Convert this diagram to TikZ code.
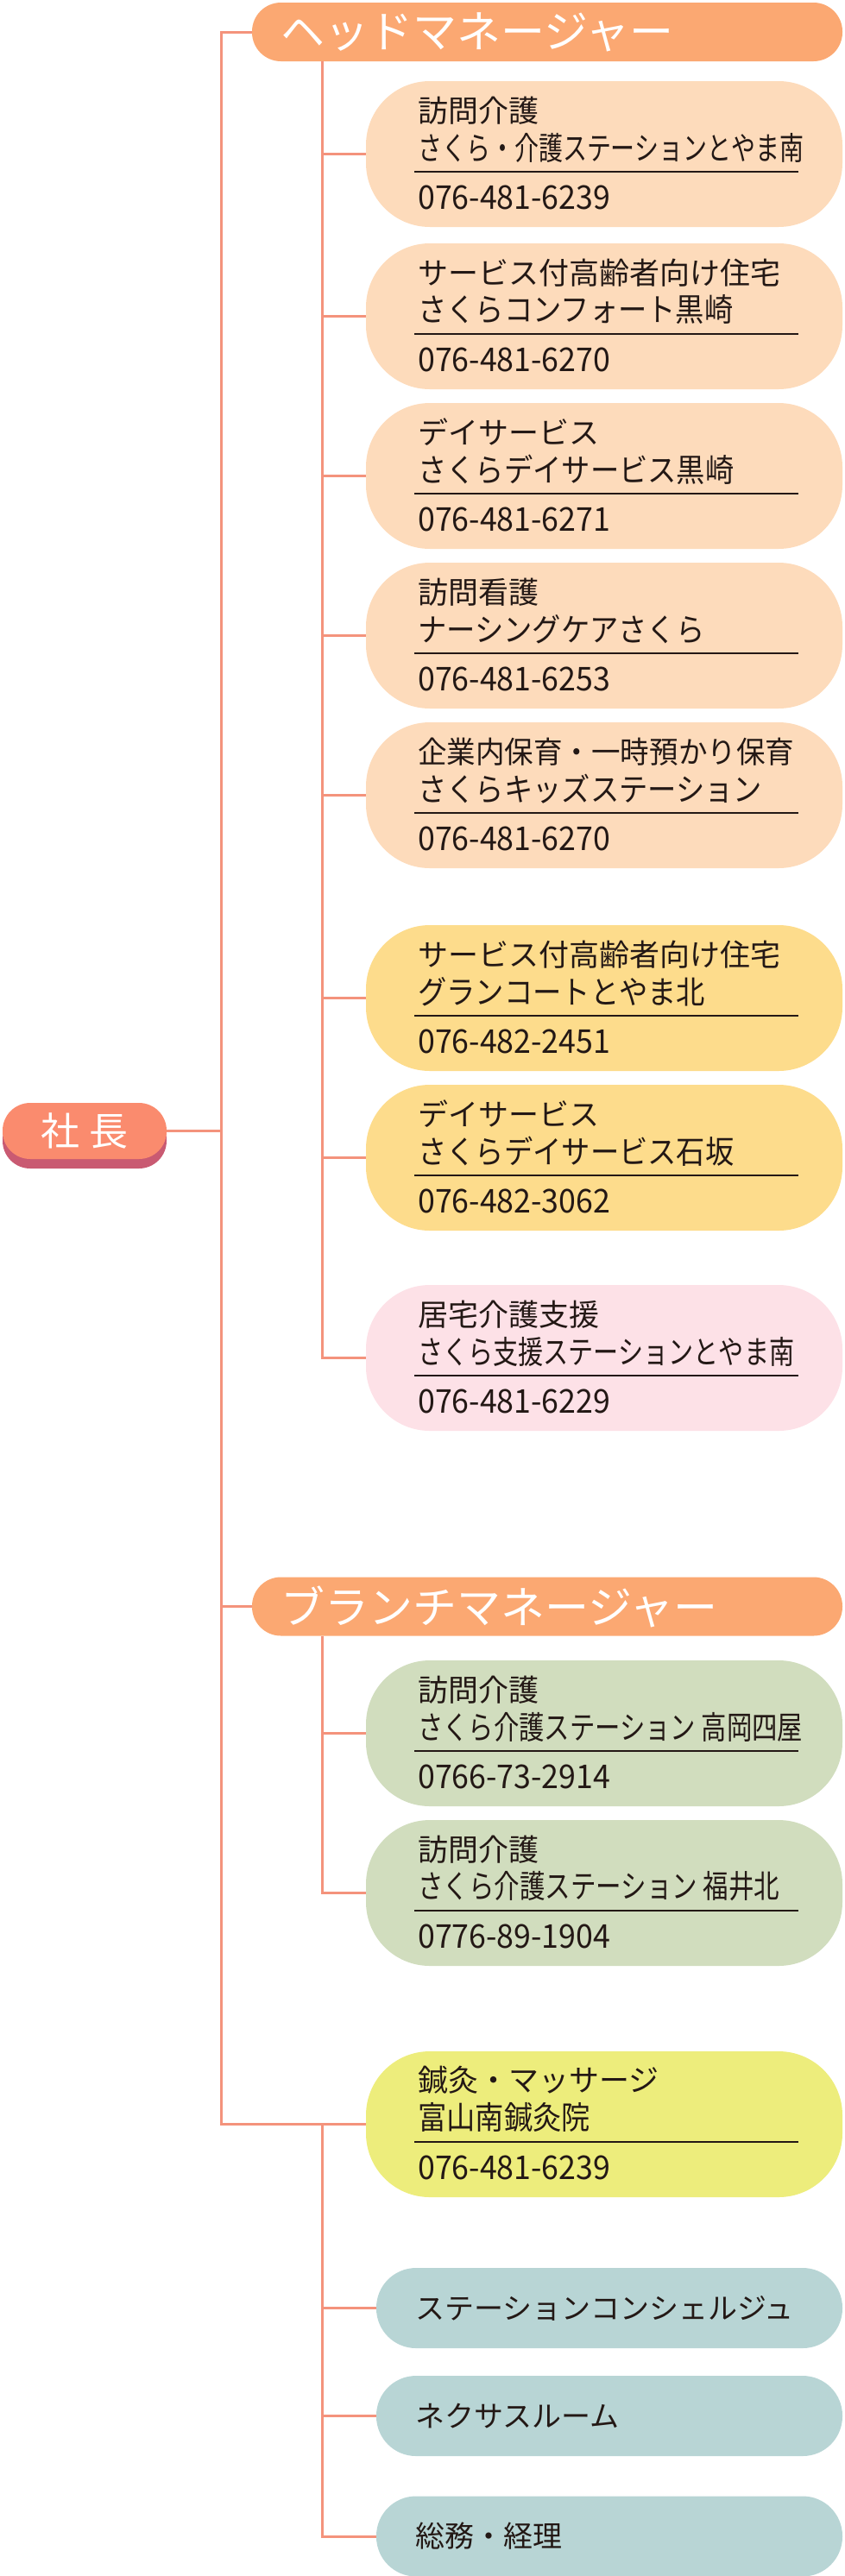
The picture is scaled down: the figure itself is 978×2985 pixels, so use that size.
\documentclass[tikz,border=0pt]{standalone}
\usepackage{graphicx}
\usepackage{fontspec}
\setmainfont{Noto Sans CJK JP}
\newfontfamily\narrowjp{Noto Sans CJK JP}[FakeStretch=0.9]
\newfontfamily\teljp{Noto Sans CJK JP}[FakeStretch=0.94]
\usetikzlibrary{shadows}
\definecolor{linkc}{HTML}{F4937C}
\definecolor{mgrc}{HTML}{FBA872}
\definecolor{peachc}{HTML}{FDDBBB}
\definecolor{goldc}{HTML}{FDDC8C}
\definecolor{rosec}{HTML}{FDE1E7}
\definecolor{sagec}{HTML}{D1DDBE}
\definecolor{limec}{HTML}{EDED7C}
\definecolor{tealc}{HTML}{B8D5D5}
\definecolor{bossc}{HTML}{FA8B6E}
\definecolor{bossdk}{HTML}{C95A72}
\definecolor{inkc}{HTML}{231815}
\begin{document}
\begin{tikzpicture}[x=1pt,y=-1pt,
        link/.style={draw=linkc,line width=3pt},
        mgr/.style={fill=mgrc,rounded corners=33.5pt,minimum width=684pt,minimum height=68pt,
            text width=618pt,inner xsep=33pt,align=left,text=white,font=\fontsize{51}{58}\selectfont},
        card/.style={rounded corners=74pt,minimum width=552pt,minimum height=169pt,inner sep=0pt},
        desk/.style={fill=tealc,rounded corners=46pt,minimum width=540pt,minimum height=93pt,
            text width=450pt,inner xsep=45pt,align=left,text=inkc,font=\fontsize{34}{40}\selectfont},
        kind/.style={anchor=west,inner sep=0pt,text=inkc,font=\fontsize{35}{40}\selectfont},
        place/.style={anchor=west,inner sep=0pt,text=inkc,font=\narrowjp\fontsize{37}{42}\selectfont},
        tel/.style={anchor=west,inner sep=0pt,text=inkc,font=\teljp\fontsize{38}{44}\selectfont},
        rule/.style={draw=inkc,line width=2pt}]
        \useasboundingbox (0,0) rectangle (978,2985);
        %% Managers
        \node[fill=bossc,rounded corners=32pt,minimum width=190pt,minimum height=65pt,text=white,
            font=\fontsize{45}{50}\selectfont,
            drop shadow={shadow xshift=0pt,shadow yshift=-11pt,fill=bossdk,opacity=1}] (boss) at (98,1310.5) {社\hspace{12pt}長};
        \node[mgr] (hm) at (634,37) {ヘッドマネージャー};
        \node[mgr] (bm) at (634,1861.5) {ブランチマネージャー};
        %% Boxes
        \node[card,fill=peachc] (hv) at (700,178.5) {};
        \node[card,fill=peachc] (sc) at (700,366.5) {};
        \node[card,fill=peachc] (ds) at (700,551.5) {};
        \node[card,fill=peachc] (hk) at (700,736.5) {};
        \node[card,fill=peachc] (ks) at (700,921.5) {};
        \node[card,fill=goldc] (gc) at (700,1156.5) {};
        \node[card,fill=goldc] (ik) at (700,1341.5) {};
        \node[card,fill=rosec] (kt) at (700,1573.5) {};
        \node[card,fill=sagec] (tk) at (700,2008.5) {};
        \node[card,fill=sagec] (fk) at (700,2193.5) {};
        \node[card,fill=limec] (sk) at (700,2461.5) {};
        \node[desk] (cn) at (706,2674.5) {ステーションコンシェルジュ};
        \node[desk] (nx) at (706,2799.5) {ネクサスルーム};
        \node[desk] (sm) at (706,2939) {総務・経理};
        %% Labels
        \node[kind] (hv-1) at (484,128) {訪問介護};
        \node[place] (hv-2) at (484,171) {\resizebox{447pt}{\height}{さくら・介護ステーションとやま南}};
        \node[tel] (hv-3) at (484,229) {076-481-6239};
        \node[kind] (sc-1) at (484,316) {サービス付高齢者向け住宅};
        \node[place] (sc-2) at (484,359) {さくらコンフォート黒崎};
        \node[tel] (sc-3) at (484,417) {076-481-6270};
        \node[kind] (ds-1) at (484,501) {デイサービス};
        \node[place] (ds-2) at (484,544) {さくらデイサービス黒崎};
        \node[tel] (ds-3) at (484,602) {076-481-6271};
        \node[kind] (hk-1) at (484,686) {訪問看護};
        \node[place] (hk-2) at (484,729) {ナーシングケアさくら};
        \node[tel] (hk-3) at (484,787) {076-481-6253};
        \node[kind] (ks-1) at (484,871) {\resizebox{436pt}{\height}{企業内保育・一時預かり保育}};
        \node[place] (ks-2) at (484,914) {さくらキッズステーション};
        \node[tel] (ks-3) at (484,972) {076-481-6270};
        \node[kind] (gc-1) at (484,1106) {サービス付高齢者向け住宅};
        \node[place] (gc-2) at (484,1149) {グランコートとやま北};
        \node[tel] (gc-3) at (484,1207) {076-482-2451};
        \node[kind] (ik-1) at (484,1291) {デイサービス};
        \node[place] (ik-2) at (484,1334) {さくらデイサービス石坂};
        \node[tel] (ik-3) at (484,1392) {076-482-3062};
        \node[kind] (kt-1) at (484,1523) {居宅介護支援};
        \node[place] (kt-2) at (484,1566) {\resizebox{436pt}{\height}{さくら支援ステーションとやま南}};
        \node[tel] (kt-3) at (484,1624) {076-481-6229};
        \node[kind] (tk-1) at (484,1958) {訪問介護};
        \node[place] (tk-2) at (484,2001) {\resizebox{446pt}{\height}{さくら介護ステーション 高岡四屋}};
        \node[tel] (tk-3) at (484,2059) {0766-73-2914};
        \node[kind] (fk-1) at (484,2143) {訪問介護};
        \node[place] (fk-2) at (484,2186) {\resizebox{419pt}{\height}{さくら介護ステーション 福井北}};
        \node[tel] (fk-3) at (484,2244) {0776-89-1904};
        \node[kind] (sk-1) at (484,2411) {鍼灸・マッサージ};
        \node[place] (sk-2) at (484,2454) {富山南鍼灸院};
        \node[tel] (sk-3) at (484,2512) {076-481-6239};
        %% Rules
        \draw[rule] (480,199) -- (925,199);
        \draw[rule] (480,387) -- (925,387);
        \draw[rule] (480,572) -- (925,572);
        \draw[rule] (480,757) -- (925,757);
        \draw[rule] (480,942) -- (925,942);
        \draw[rule] (480,1177) -- (925,1177);
        \draw[rule] (480,1362) -- (925,1362);
        \draw[rule] (480,1594) -- (925,1594);
        \draw[rule] (480,2029) -- (925,2029);
        \draw[rule] (480,2214) -- (925,2214);
        \draw[rule] (480,2482) -- (925,2482);
        %% Connectors
        \coordinate (trunk) at (256,0);
        \coordinate (sub) at (373,0);
        \draw[link] (hm.west) -| (sk.west -| trunk) -- (sk.west);
        \draw[link] (boss.east) -- (boss.east -| trunk);
        \draw[link] (bm.west) -- (bm.west -| trunk);
        \draw[link] (hm.south -| sub) |- (kt.west);
        \draw[link] (hv.west) -- (hv.west -| sub);
        \draw[link] (sc.west) -- (sc.west -| sub);
        \draw[link] (ds.west) -- (ds.west -| sub);
        \draw[link] (hk.west) -- (hk.west -| sub);
        \draw[link] (ks.west) -- (ks.west -| sub);
        \draw[link] (gc.west) -- (gc.west -| sub);
        \draw[link] (ik.west) -- (ik.west -| sub);
        \draw[link] (bm.south -| sub) |- (fk.west);
        \draw[link] (tk.west) -- (tk.west -| sub);
        \draw[link] (sk.west -| sub) |- (sm.west);
        \draw[link] (cn.west) -- (cn.west -| sub);
        \draw[link] (nx.west) -- (nx.west -| sub);
    \end{tikzpicture}
\end{document}
